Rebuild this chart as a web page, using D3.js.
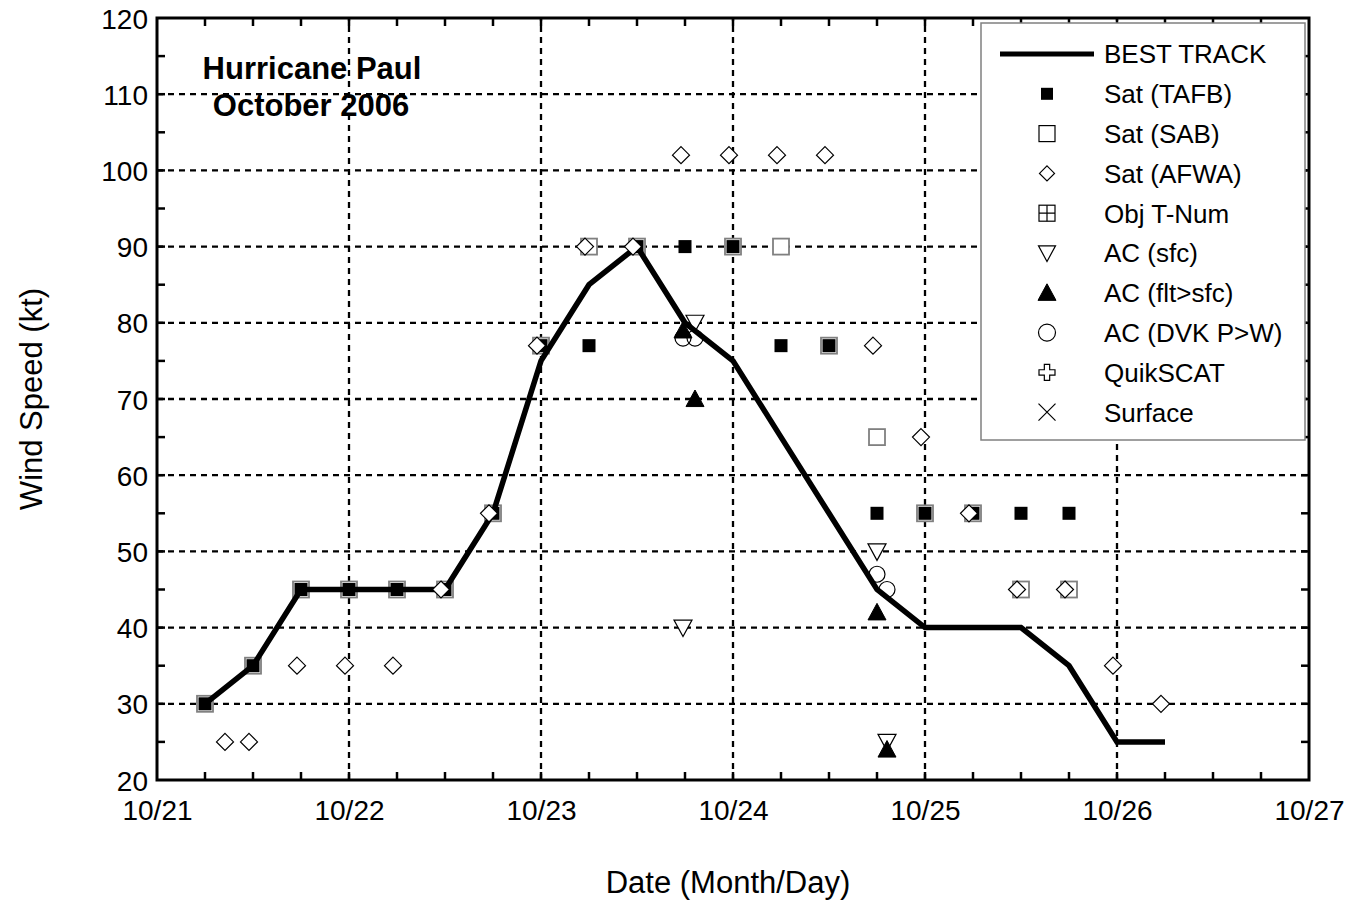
<!DOCTYPE html>
<html>
<head>
<meta charset="utf-8">
<script src="https://cdn.jsdelivr.net/npm/d3@7"></script>
<style>
  body { margin: 0; background: #fff; }
  text { font-family: "Liberation Sans", Arial, sans-serif; fill: #000; }
</style>
</head>
<body>
<svg id="chart" width="1357" height="901"></svg>
<script>
// times are UTC, "MM/DD HH:MM" in October 2006
const bestTrackTimes = ['10/21 06:00', '10/21 12:00', '10/21 18:00', '10/22 00:00', '10/22 06:00', '10/22 12:00',
  '10/22 18:00', '10/23 00:00', '10/23 06:00', '10/23 12:00', '10/23 18:00', '10/24 00:00', '10/24 06:00',
  '10/24 12:00', '10/24 18:00', '10/25 00:00', '10/25 06:00', '10/25 12:00', '10/25 18:00', '10/26 00:00', '10/26 06:00'];
const bestTrackWinds = [30, 35, 45, 45, 45, 45, 55, 75, 85, 90, 80, 75, 65, 55, 45, 40, 40, 40, 35, 25, 25];

const tafbTimes = ['10/21 06:00', '10/21 12:00', '10/21 18:00', '10/22 00:00', '10/22 06:00', '10/22 12:00',
  '10/22 18:00', '10/23 00:00', '10/23 06:00', '10/23 12:00', '10/23 18:00', '10/24 00:00', '10/24 06:00',
  '10/24 12:00', '10/24 18:00', '10/25 00:00', '10/25 06:00', '10/25 12:00', '10/25 18:00'];
const tafbWinds = [30, 35, 45, 45, 45, 45, 55, 77, 77, 90, 90, 90, 77, 77, 55, 55, 55, 55, 55];

const sabTimes = ['10/21 06:00', '10/21 12:00', '10/21 18:00', '10/22 00:00', '10/22 06:00', '10/22 12:00',
  '10/22 18:00', '10/23 00:00', '10/23 06:00', '10/23 12:00', '10/24 00:00', '10/24 06:00', '10/24 12:00',
  '10/24 18:00', '10/25 00:00', '10/25 06:00', '10/25 12:00', '10/25 18:00'];
const sabWinds = [30, 35, 45, 45, 45, 45, 55, 77, 90, 90, 90, 90, 77, 65, 55, 55, 45, 45];

const afwaTimes = ['10/21 08:30', '10/21 11:30', '10/21 17:30', '10/21 23:30', '10/22 05:30', '10/22 11:30',
  '10/22 17:30', '10/22 23:30', '10/23 05:30', '10/23 11:30', '10/23 17:30', '10/23 23:30', '10/24 05:30',
  '10/24 11:30', '10/24 17:30', '10/24 23:30', '10/25 05:30', '10/25 11:30', '10/25 17:30', '10/25 23:30', '10/26 05:30'];
const afwaWinds = [25, 25, 35, 35, 35, 45, 55, 77, 90, 90, 102, 102, 102, 102, 77, 65, 55, 45, 45, 35, 30];

const acSfcTimes = ['10/23 17:45', '10/23 19:15', '10/24 18:00', '10/24 19:15'];
const acSfcWinds = [40, 80, 50, 25];

const acFltTimes = ['10/23 17:45', '10/23 19:15', '10/24 18:00', '10/24 19:15'];
const acFltWinds = [79, 70, 42, 24];

const acDvkTimes = ['10/23 17:45', '10/23 19:15', '10/24 18:00', '10/24 19:15'];
const acDvkWinds = [78, 78, 47, 45];

const xTickLabels = ['10/21', '10/22', '10/23', '10/24', '10/25', '10/26', '10/27'];
const legendLabels = ['BEST TRACK', 'Sat (TAFB)', 'Sat (SAB)', 'Sat (AFWA)', 'Obj T-Num', 'AC (sfc)',
  'AC (flt>sfc)', 'AC (DVK P>W)', 'QuikSCAT', 'Surface'];

const parseTime = d3.utcParse('%Y/%m/%d %H:%M');
const toDate = s => parseTime('2006/' + s);
const zip = (times, winds) => times.map((t, i) => ({ date: toDate(t), wind: winds[i] }));

const margin = { left: 157, right: 48, top: 18, bottom: 121 };
const width = 1357, height = 901;
const svg = d3.select('#chart');

const x = d3.scaleUtc()
  .domain([toDate('10/21 00:00'), toDate('10/27 00:00')])
  .range([margin.left, width - margin.right]);
const y = d3.scaleLinear()
  .domain([20, 120])
  .range([height - margin.bottom, margin.top]);

const x0 = x.range()[0], x1 = x.range()[1];
const y0 = y.range()[0], y1 = y.range()[1];
const dayTicks = xTickLabels.map(l => toDate(l + ' 00:00'));
const sixHourTicks = d3.utcHour.every(6).range(x.domain()[0], x.domain()[1]);

// grid
const grid = svg.append('g').attr('class', 'grid')
  .attr('stroke', '#000').attr('stroke-width', 2.3).attr('stroke-dasharray', '6,5');
grid.selectAll('.gy').data(d3.range(30, 120, 10)).join('line')
  .attr('x1', x0).attr('x2', x1).attr('y1', d => y(d)).attr('y2', d => y(d));
grid.selectAll('.gx').data(dayTicks.slice(1, -1)).join('line')
  .attr('y1', y0).attr('y2', y1).attr('x1', d => x(d)).attr('x2', d => x(d));

// axes
const tickFont = '28px';
const xAxis = svg.append('g').attr('transform', `translate(0,${y0})`)
  .call(d3.axisBottom(x).tickValues(dayTicks).tickSize(0).tickPadding(20)
    .tickFormat((d, i) => xTickLabels[i]));
const yAxis = svg.append('g').attr('transform', `translate(${x0},0)`)
  .call(d3.axisLeft(y).tickValues(d3.range(20, 121, 10)).tickSize(0).tickPadding(9));
[xAxis, yAxis].forEach(a => {
  a.select('.domain').remove();
  a.selectAll('text').style('font-size', tickFont).attr('font-family', null);
});
yAxis.selectAll('text').attr('dy', '0.36em');

// inward ticks on all four sides
const ticks = svg.append('g').attr('stroke', '#000').attr('stroke-width', 2.5);
ticks.selectAll('.tb').data(sixHourTicks.slice(1)).join('line')
  .attr('x1', d => x(d)).attr('x2', d => x(d)).attr('y1', y0).attr('y2', y0 - 8);
ticks.selectAll('.tt').data(sixHourTicks.slice(1)).join('line')
  .attr('x1', d => x(d)).attr('x2', d => x(d)).attr('y1', y1).attr('y2', y1 + 8);
ticks.selectAll('.tl').data(d3.range(25, 120, 5)).join('line')
  .attr('x1', x0).attr('x2', x0 + 8).attr('y1', d => y(d)).attr('y2', d => y(d));
ticks.selectAll('.tr').data(d3.range(25, 120, 5)).join('line')
  .attr('x1', x1).attr('x2', x1 - 8).attr('y1', d => y(d)).attr('y2', d => y(d));

svg.append('rect')
  .attr('x', x0).attr('y', y1).attr('width', x1 - x0).attr('height', y0 - y1)
  .attr('fill', 'none').attr('stroke', '#000').attr('stroke-width', 3);

// marker shapes
const symbols = {
  square: (g, s) => g.append('rect').attr('x', -s / 2).attr('y', -s / 2).attr('width', s).attr('height', s),
  diamond: (g, s) => g.append('path').attr('d', `M0,${-s / 2}L${s / 2},0L0,${s / 2}L${-s / 2},0Z`),
  down: (g, s) => g.append('path').attr('d', `M${-s / 2},${-s * 0.42}L${s / 2},${-s * 0.42}L0,${s * 0.5}Z`),
  up: (g, s) => g.append('path').attr('d', `M${-s / 2},${s * 0.42}L${s / 2},${s * 0.42}L0,${-s * 0.5}Z`),
  circle: (g, s) => g.append('circle').attr('r', s / 2),
  grid: (g, s) => {
    g.append('rect').attr('x', -s / 2).attr('y', -s / 2).attr('width', s).attr('height', s);
    g.append('path').attr('d', `M0,${-s / 2}V${s / 2}M${-s / 2},0H${s / 2}`);
  },
  plus: (g, s) => {
    const a = s / 2, b = s / 6;
    g.append('path').attr('d', `M${-b},${-a}H${b}V${-b}H${a}V${b}H${b}V${a}H${-b}V${b}H${-a}V${-b}H${-b}Z`);
  },
  cross: (g, s) => g.append('path').attr('d', `M${-s / 2},${-s / 2}L${s / 2},${s / 2}M${s / 2},${-s / 2}L${-s / 2},${s / 2}`),
};

const styles = {
  sab: { shape: 'square', size: 16, fill: '#fff', stroke: '#808080', sw: 1.8 },
  tafb: { shape: 'square', size: 13, fill: '#000', stroke: '#000', sw: 0 },
  afwa: { shape: 'diamond', size: 17, fill: '#fff', stroke: '#000', sw: 1.2 },
  acSfc: { shape: 'down', size: 18, fill: '#fff', stroke: '#000', sw: 1.2 },
  acFlt: { shape: 'up', size: 18, fill: '#000', stroke: '#000', sw: 1 },
  acDvk: { shape: 'circle', size: 16, fill: 'none', stroke: '#000', sw: 1.2 },
  objT: { shape: 'grid', size: 16, fill: '#fff', stroke: '#000', sw: 1.2 },
  qscat: { shape: 'plus', size: 17, fill: '#fff', stroke: '#000', sw: 1.2 },
  surface: { shape: 'cross', size: 17, fill: 'none', stroke: '#000', sw: 1.2 },
};

function drawMarker(g, key) {
  const st = styles[key];
  symbols[st.shape](g, st.size);
  g.selectAll('*').attr('fill', st.fill).attr('stroke', st.stroke).attr('stroke-width', st.sw);
}

function drawSeries(data, key) {
  svg.append('g').selectAll('g').data(data).join('g')
    .attr('transform', d => `translate(${x(d.date)},${y(d.wind)})`)
    .each(function () { drawMarker(d3.select(this), key); });
}

drawSeries(zip(sabTimes, sabWinds), 'sab');
drawSeries(zip(tafbTimes, tafbWinds), 'tafb');
drawSeries(zip(acSfcTimes, acSfcWinds), 'acSfc');
drawSeries(zip(acFltTimes, acFltWinds), 'acFlt');
drawSeries(zip(acDvkTimes, acDvkWinds), 'acDvk');

const line = d3.line().x(d => x(d.date)).y(d => y(d.wind));
svg.append('path')
  .datum(zip(bestTrackTimes, bestTrackWinds))
  .attr('d', line)
  .attr('fill', 'none').attr('stroke', '#000').attr('stroke-width', 5.5).attr('stroke-linejoin', 'miter');

drawSeries(zip(afwaTimes, afwaWinds), 'afwa');

// title
svg.append('text').attr('x', 312).attr('y', 79).attr('text-anchor', 'middle')
  .style('font-size', '31px').style('font-weight', 'bold').text('Hurricane Paul');
svg.append('text').attr('x', 311).attr('y', 116).attr('text-anchor', 'middle')
  .style('font-size', '31px').style('font-weight', 'bold').text('October 2006');

// axis titles
svg.append('text').attr('x', 728).attr('y', 893).attr('text-anchor', 'middle')
  .style('font-size', '31px').text('Date (Month/Day)');
svg.append('text').attr('transform', `translate(42,${(y0 + y1) / 2}) rotate(-90)`)
  .attr('text-anchor', 'middle').style('font-size', '31px').text('Wind Speed (kt)');

// legend
const legend = svg.append('g');
legend.append('rect').attr('x', 981).attr('y', 23).attr('width', 324).attr('height', 417)
  .attr('fill', '#fff').attr('stroke', '#808080').attr('stroke-width', 1.5);
const legendKeys = [null, 'tafb', 'sab', 'afwa', 'objT', 'acSfc', 'acFlt', 'acDvk', 'qscat', 'surface'];
const legendSizes = { tafb: 12, sab: 16, afwa: 15, objT: 16, acSfc: 17, acFlt: 18, acDvk: 17, qscat: 16, surface: 17 };
legendLabels.forEach((label, i) => {
  const ly = 54 + i * 39.8;
  const key = legendKeys[i];
  if (key === null) {
    legend.append('line').attr('x1', 1000).attr('x2', 1094).attr('y1', ly).attr('y2', ly)
      .attr('stroke', '#000').attr('stroke-width', 5);
  } else {
    const g = legend.append('g').attr('transform', `translate(1047,${ly})`);
    const st = styles[key];
    const saved = st.size;
    st.size = legendSizes[key];
    if (key === 'sab') { st.stroke = '#000'; st.sw = 1.2; }
    drawMarker(g, key);
    st.size = saved;
  }
  legend.append('text').attr('x', 1104).attr('y', ly).attr('dy', '0.36em')
    .style('font-size', '26px').text(label);
});
</script>
</body>
</html>
